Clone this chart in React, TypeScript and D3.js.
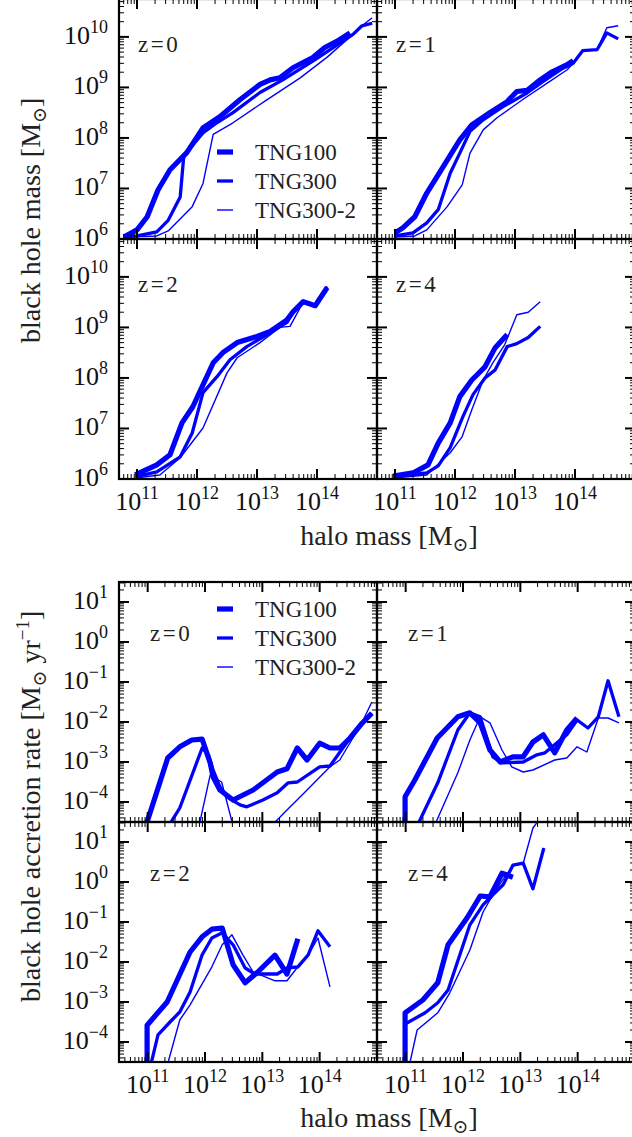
import React from "react";
import * as d3 from "d3";

type P = [number, number];

// ---------- data: log10(halo mass) vs log10(black hole mass) ----------
const bhZ0_TNG100: P[] = [[10.78,6.04],[11.0,6.18],[11.17,6.44],[11.35,6.97],[11.55,7.37],[11.83,7.71],[12.1,8.2],[12.38,8.42],[12.72,8.76],[13.05,9.06],[13.22,9.15],[13.38,9.19],[13.6,9.39],[13.93,9.59],[14.13,9.79],[14.33,9.91],[14.55,10.08]];
const bhZ0_TNG300: P[] = [[10.78,6.04],[11.0,6.06],[11.33,6.14],[11.52,6.37],[11.72,6.83],[11.78,7.65],[12.1,8.1],[12.33,8.3],[12.6,8.5],[13.05,8.9],[13.43,9.15],[13.93,9.52],[14.27,9.79],[14.6,10.05],[14.75,10.22],[14.92,10.27]];
const bhZ0_TNG3002: P[] = [[10.78,6.04],[11.33,6.06],[11.52,6.16],[11.92,6.64],[12.1,7.1],[12.27,8.07],[12.6,8.3],[13.17,8.76],[13.72,9.19],[14.17,9.6],[14.55,10.0],[14.75,10.22],[14.92,10.38]];

const bhZ1_TNG100: P[] = [[11.0,6.12],[11.13,6.22],[11.33,6.44],[11.53,6.91],[11.75,7.33],[12.08,7.96],[12.28,8.26],[12.58,8.5],[12.87,8.72],[13.03,8.92],[13.2,8.94],[13.42,9.15],[13.62,9.31],[13.87,9.45],[13.97,9.53]];
const bhZ1_TNG300: P[] = [[11.0,6.06],[11.3,6.12],[11.53,6.32],[11.72,6.58],[11.92,7.3],[12.08,7.7],[12.25,8.13],[12.47,8.36],[12.8,8.62],[13.2,8.89],[13.47,9.12],[13.8,9.38],[13.97,9.48],[14.13,9.73],[14.37,9.75],[14.53,10.08],[14.72,9.96]];
const bhZ1_TNG3002: P[] = [[11.0,6.04],[11.33,6.06],[11.53,6.18],[11.87,6.64],[12.12,7.07],[12.25,7.7],[12.47,8.16],[12.7,8.4],[13.13,8.76],[13.58,9.12],[13.87,9.35],[13.97,9.48],[14.13,9.73],[14.37,9.75],[14.53,10.18],[14.72,10.22]];

const bhZ2_TNG100: P[] = [[10.97,6.08],[11.33,6.28],[11.55,6.48],[11.75,7.11],[11.93,7.43],[12.27,8.3],[12.43,8.5],[12.67,8.7],[13.0,8.82],[13.22,8.92],[13.5,9.15],[13.6,9.31],[13.77,9.51],[13.97,9.43],[14.17,9.79]];
const bhZ2_TNG300: P[] = [[10.97,6.04],[11.33,6.14],[11.72,6.44],[11.92,6.91],[12.1,7.71],[12.33,8.02],[12.55,8.36],[12.83,8.62],[13.17,8.86],[13.5,9.1],[13.6,9.3],[13.77,9.5],[13.97,9.43],[14.17,9.8]];
const bhZ2_TNG3002: P[] = [[10.97,6.02],[11.38,6.08],[11.72,6.42],[12.1,7.01],[12.5,8.1],[12.67,8.4],[13.05,8.7],[13.38,9.0],[13.55,9.02],[13.77,9.5],[13.97,9.44],[14.17,9.81]];

const bhZ4_TNG100: P[] = [[10.97,6.06],[11.3,6.12],[11.55,6.28],[11.72,6.71],[11.92,7.11],[12.08,7.63],[12.28,7.96],[12.5,8.22],[12.67,8.6],[12.87,8.86]];
const bhZ4_TNG300: P[] = [[10.97,6.04],[11.53,6.12],[11.72,6.26],[11.92,6.62],[12.13,7.23],[12.3,7.67],[12.5,8.0],[12.67,8.16],[12.87,8.62],[13.03,8.68],[13.22,8.8],[13.42,9.02]];
const bhZ4_TNG3002: P[] = [[10.97,6.02],[11.53,6.08],[11.92,6.52],[12.12,6.84],[12.28,7.37],[12.47,7.96],[12.63,8.3],[12.83,8.66],[13.03,9.25],[13.22,9.3],[13.42,9.51]];

// ---------- data: log10(halo mass) vs log10(accretion rate) ----------
const accZ0_TNG100: P[] = [[10.9,-4.9],[11.35,-2.9],[11.56,-2.62],[11.77,-2.45],[11.95,-2.43],[12.09,-3.02],[12.14,-3.37],[12.26,-3.7],[12.49,-3.95],[12.84,-3.7],[13.26,-3.25],[13.43,-3.17],[13.61,-2.65],[13.78,-2.95],[14.0,-2.53],[14.18,-2.65],[14.35,-2.65],[14.53,-2.4],[14.74,-2.03],[14.91,-1.78]];
const accZ0_TNG300: P[] = [[11.3,-4.75],[11.56,-4.15],[11.95,-2.65],[12.06,-2.82],[12.14,-3.2],[12.26,-3.62],[12.38,-3.87],[12.61,-4.07],[12.73,-4.12],[13.01,-3.95],[13.26,-3.77],[13.45,-3.52],[13.61,-3.5],[14.0,-3.12],[14.18,-3.1],[14.53,-2.4],[14.74,-2.03],[14.91,-1.78]];
const accZ0_TNG3002: P[] = [[11.85,-4.9],[12.09,-3.33],[12.29,-3.5],[12.6,-5.2],[13.05,-4.75],[13.43,-4.2],[13.78,-3.7],[14.18,-3.12],[14.35,-2.95],[14.58,-2.4],[14.76,-1.95],[14.91,-1.5]];

const accZ1_TNG100: P[] = [[10.99,-6],[10.99,-3.87],[11.16,-3.45],[11.55,-2.4],[11.91,-1.87],[12.12,-1.77],[12.3,-2.02],[12.47,-2.7],[12.65,-3.0],[12.87,-2.87],[13.05,-2.87],[13.22,-2.5],[13.4,-2.32],[13.6,-2.77],[13.81,-2.2],[13.99,-1.9]];
const accZ1_TNG300: P[] = [[11.2,-4.6],[11.56,-3.52],[11.91,-2.2],[12.12,-1.77],[12.3,-1.87],[12.52,-2.87],[12.68,-3.02],[13.05,-3.0],[13.29,-2.82],[13.43,-2.77],[13.64,-2.52],[13.81,-2.32],[13.99,-1.95],[14.18,-2.15],[14.36,-1.87],[14.53,-0.97],[14.72,-1.87]];
const accZ1_TNG3002: P[] = [[11.5,-4.6],[11.91,-3.27],[12.12,-2.45],[12.3,-1.87],[12.47,-2.02],[12.68,-2.7],[12.85,-3.12],[13.05,-3.25],[13.22,-3.2],[13.6,-2.95],[13.81,-2.9],[13.99,-2.62],[14.16,-2.75],[14.36,-1.9],[14.53,-1.9],[14.72,-2.02]];

const accZ2_TNG100: P[] = [[10.99,-6],[10.99,-3.58],[11.34,-3.0],[11.74,-1.75],[11.95,-1.37],[12.12,-1.18],[12.3,-1.15],[12.49,-2.07],[12.7,-2.52],[12.92,-2.25],[13.22,-1.83],[13.43,-2.3],[13.62,-1.42]];
const accZ2_TNG300: P[] = [[11.0,-4.9],[11.18,-3.82],[11.39,-3.5],[11.56,-3.25],[11.74,-2.75],[11.95,-1.82],[12.12,-1.4],[12.3,-1.27],[12.49,-1.57],[12.7,-2.15],[12.87,-2.3],[13.26,-2.3],[13.43,-2.15],[13.62,-2.12],[13.8,-1.82],[13.97,-1.22],[14.18,-1.62]];
const accZ2_TNG3002: P[] = [[11.3,-4.8],[11.56,-3.45],[11.74,-3.07],[12.12,-2.12],[12.3,-1.57],[12.47,-1.32],[12.66,-1.82],[12.84,-2.25],[13.22,-2.47],[13.43,-2.47],[13.62,-2.12],[13.8,-1.82],[13.97,-1.4],[14.18,-2.62]];

const accZ4_TNG100: P[] = [[10.99,-6],[10.99,-3.27],[11.3,-2.95],[11.56,-2.52],[11.74,-1.57],[12.07,-0.9],[12.3,-0.35],[12.47,-0.37],[12.68,0.22],[12.87,0.12]];
const accZ4_TNG300: P[] = [[10.99,-6],[10.99,-3.55],[11.34,-3.27],[11.56,-3.02],[11.74,-2.7],[12.12,-1.07],[12.35,-0.57],[12.52,-0.32],[12.7,-0.07],[12.87,0.42],[13.05,0.47],[13.22,-0.17],[13.41,0.85]];
const accZ4_TNG3002: P[] = [[11.0,-5.0],[11.2,-3.7],[11.56,-3.27],[11.77,-2.77],[12.12,-1.7],[12.35,-0.75],[12.52,-0.32],[12.7,0.07],[12.87,0.4],[13.05,0.47],[13.22,1.35],[13.4,1.7]];

const seriesNames = ["TNG100", "TNG300", "TNG300-2"];
const seriesWidths = [5.2, 3.3, 1.4];
const redshiftLabels = ["z=0", "z=1", "z=2", "z=4"];

const BLUE = "#0000ff";
const FONT = "'Liberation Serif', 'DejaVu Serif', serif";

type PanelProps = {
  id: string;
  x0: number; y0: number; w: number; h: number;
  xDom: [number, number]; yDom: [number, number];
  series: P[][];
  showX: boolean; showY: boolean;
  label: string; labelX: number; labelY: number;
  legend?: { x: number; y: number };
};

function Pow10({ x, y, exp, anchor }: { x: number; y: number; exp: number; anchor: string }) {
  const e = exp < 0 ? "\u2212" + Math.abs(exp) : String(exp);
  return (
    <text x={x} y={y} textAnchor={anchor} fontFamily={FONT} fontSize={26} fill="#111">
      <tspan>10</tspan>
      <tspan dy={-11} fontSize={18}>{e}</tspan>
    </text>
  );
}

function Panel(p: PanelProps) {
  const xs = d3.scaleLog().domain([10 ** p.xDom[0], 10 ** p.xDom[1]]).range([p.x0, p.x0 + p.w]);
  const ys = d3.scaleLog().domain([10 ** p.yDom[0], 10 ** p.yDom[1]]).range([p.y0 + p.h, p.y0]);
  const line = d3.line<P>().x(d => xs(10 ** d[0])).y(d => ys(10 ** d[1]));

  const majors = (dom: [number, number]) => {
    const r: number[] = [];
    for (let k = Math.ceil(dom[0]); k <= Math.floor(dom[1]); k++) r.push(k);
    return r;
  };
  const minors = (dom: [number, number]) => {
    const r: number[] = [];
    for (let k = Math.floor(dom[0]) - 1; k <= Math.ceil(dom[1]); k++) {
      for (let m = 2; m <= 9; m++) {
        const v = k + Math.log10(m);
        if (v > dom[0] && v < dom[1]) r.push(v);
      }
    }
    return r;
  };
  const xM = majors(p.xDom), xm = minors(p.xDom), yM = majors(p.yDom), ym = minors(p.yDom);
  const L = 10, l = 5;
  const top = p.y0, bot = p.y0 + p.h, left = p.x0, right = p.x0 + p.w;
  const ticks: JSX.Element[] = [];
  xM.forEach((v, i) => {
    const x = xs(10 ** v);
    ticks.push(<line key={`xb${i}`} x1={x} x2={x} y1={bot} y2={bot - L} stroke="#000" strokeWidth={2} />);
    ticks.push(<line key={`xt${i}`} x1={x} x2={x} y1={top} y2={top + L} stroke="#000" strokeWidth={2} />);
  });
  xm.forEach((v, i) => {
    const x = xs(10 ** v);
    ticks.push(<line key={`xmb${i}`} x1={x} x2={x} y1={bot} y2={bot - l} stroke="#000" strokeWidth={1} />);
    ticks.push(<line key={`xmt${i}`} x1={x} x2={x} y1={top} y2={top + l} stroke="#000" strokeWidth={1} />);
  });
  yM.forEach((v, i) => {
    const y = ys(10 ** v);
    ticks.push(<line key={`yl${i}`} x1={left} x2={left + L} y1={y} y2={y} stroke="#000" strokeWidth={2} />);
    ticks.push(<line key={`yr${i}`} x1={right} x2={right - L} y1={y} y2={y} stroke="#000" strokeWidth={2} />);
  });
  ym.forEach((v, i) => {
    const y = ys(10 ** v);
    ticks.push(<line key={`yml${i}`} x1={left} x2={left + l} y1={y} y2={y} stroke="#000" strokeWidth={1} />);
    ticks.push(<line key={`ymr${i}`} x1={right} x2={right - l} y1={y} y2={y} stroke="#000" strokeWidth={1} />);
  });

  return (
    <g>
      <defs>
        <clipPath id={p.id}>
          <rect x={left} y={top} width={p.w} height={p.h} />
        </clipPath>
      </defs>
      <g clipPath={`url(#${p.id})`}>
        {p.series.map((s, i) => (
          <path key={i} d={line(s) || ""} fill="none" stroke={BLUE} strokeWidth={seriesWidths[i]} strokeLinejoin="round" />
        ))}
      </g>
      {ticks}
      <rect x={left} y={top} width={p.w} height={p.h} fill="none" stroke="#000" strokeWidth={2.2} />
      <text x={p.labelX} y={p.labelY} fontFamily={FONT} fontSize={23} letterSpacing={2.5} fill="#222">{p.label}</text>
      {p.showX && xM.filter(v => v < p.xDom[1] - 0.01).map(v => (
        <Pow10 key={`xl${v}`} x={xs(10 ** v)} y={bot + 31} exp={v} anchor="middle" />
      ))}
      {p.showY && yM.map(v => (
        <Pow10 key={`yl${v}`} x={left - 11} y={ys(10 ** v) + 7} exp={v} anchor="end" />
      ))}
      {p.legend && seriesNames.map((n, i) => (
        <g key={n}>
          <line x1={p.legend!.x} x2={p.legend!.x + 16} y1={p.legend!.y + i * 29} y2={p.legend!.y + i * 29} stroke={BLUE} strokeWidth={seriesWidths[i]} />
          <text x={p.legend!.x + 38} y={p.legend!.y + i * 29 + 8} fontFamily={FONT} fontSize={23} fill="#222">{n}</text>
        </g>
      ))}
    </g>
  );
}

export default function App() {
  const colX = [119, 377];
  const W = 258;
  const topRows = [-1, 239];
  const botRows = [582, 822];
  const H = 240;
  const bhSeries = [
    [bhZ0_TNG100, bhZ0_TNG300, bhZ0_TNG3002],
    [bhZ1_TNG100, bhZ1_TNG300, bhZ1_TNG3002],
    [bhZ2_TNG100, bhZ2_TNG300, bhZ2_TNG3002],
    [bhZ4_TNG100, bhZ4_TNG300, bhZ4_TNG3002],
  ];
  const accSeries = [
    [accZ0_TNG100, accZ0_TNG300, accZ0_TNG3002],
    [accZ1_TNG100, accZ1_TNG300, accZ1_TNG3002],
    [accZ2_TNG100, accZ2_TNG300, accZ2_TNG3002],
    [accZ4_TNG100, accZ4_TNG300, accZ4_TNG3002],
  ];
  const panels: JSX.Element[] = [];
  for (let i = 0; i < 4; i++) {
    const c = i % 2, r = Math.floor(i / 2);
    panels.push(
      <Panel key={`bh${i}`} id={`bh${i}`} x0={colX[c]} y0={topRows[r]} w={W} h={H}
        xDom={[10.7, 15]} yDom={[6, 10.75]} series={bhSeries[i]}
        showX={r === 1} showY={c === 0} label={redshiftLabels[i]}
        labelX={colX[c] + 19} labelY={topRows[r] + 53}
        legend={i === 0 ? { x: 217, y: 152 } : undefined} />
    );
    panels.push(
      <Panel key={`acc${i}`} id={`acc${i}`} x0={colX[c]} y0={botRows[r]} w={W} h={H}
        xDom={[10.5, 15]} yDom={[-4.5, 1.5]} series={accSeries[i]}
        showX={r === 1} showY={c === 0} label={redshiftLabels[i]}
        labelX={colX[c] + 31} labelY={botRows[r] + 59}
        legend={i === 0 ? { x: 217, y: 609 } : undefined} />
    );
  }
  return (
    <svg width={632} height={1137} style={{ position: "absolute", left: 0, top: 0, background: "#fff" }}>
      <rect x={0} y={0} width={632} height={1137} fill="#fff" />
      {panels}
      <text x={389} y={545} textAnchor="middle" fontFamily={FONT} fontSize={28} fill="#222">
        halo mass [M<tspan dy={6} fontSize={19}>{"\u2299"}</tspan><tspan dy={-6}>]</tspan>
      </text>
      <text x={389} y={1127} textAnchor="middle" fontFamily={FONT} fontSize={28} fill="#222">
        halo mass [M<tspan dy={6} fontSize={19}>{"\u2299"}</tspan><tspan dy={-6}>]</tspan>
      </text>
      <text transform="translate(40,343) rotate(-90)" fontFamily={FONT} fontSize={28} fill="#222">
        black hole mass [M<tspan dy={6} fontSize={19}>{"\u2299"}</tspan><tspan dy={-6}>]</tspan>
      </text>
      <text transform="translate(40,1002) rotate(-90)" fontFamily={FONT} fontSize={28} fill="#222">
        black hole accretion rate [M<tspan dy={6} fontSize={19}>{"\u2299"}</tspan>
        <tspan dy={-6}> yr</tspan><tspan dy={-11} fontSize={19}>{"\u22121"}</tspan><tspan dy={11}>]</tspan>
      </text>
    </svg>
  );
}
